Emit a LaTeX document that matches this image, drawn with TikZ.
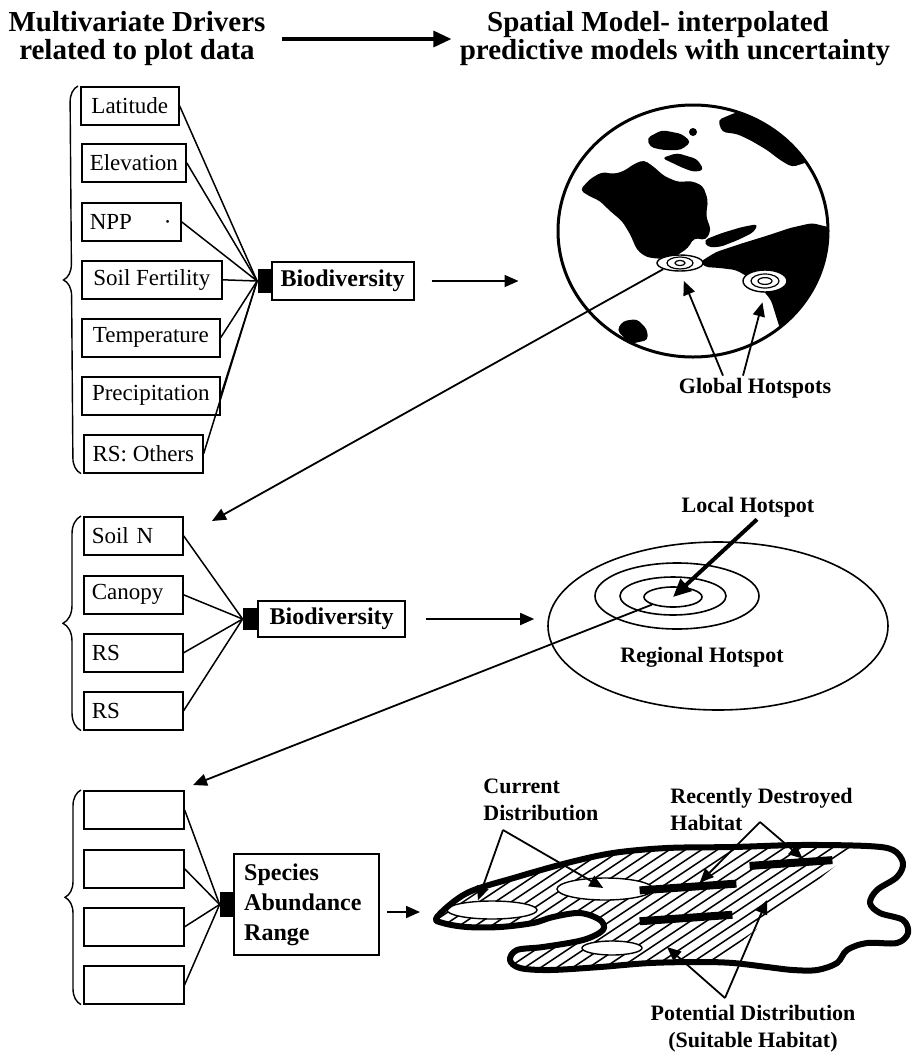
\documentclass[tikz,border=0pt]{standalone}
\usepackage{fontspec}
\setmainfont{Liberation Serif}
\usetikzlibrary{arrows.meta,shapes.geometric,decorations.pathreplacing}

\newcommand\habitatoutline{plot[smooth cycle,tension=.55] coordinates {
    (437,917) (467,893) (517,877) (567,863) (613,853) (667,848) (733,847)
    (800,845) (867,846) (893,850) (903,863) (897,877) (877,890) (870,903)
    (880,913) (903,920) (908,933) (897,943) (867,943) (847,950) (837,963)
    (817,970) (793,970) (767,967) (733,963) (700,962) (650,963) (600,967)
    (550,970) (520,968) (510,960) (517,950) (543,947) (583,940) (603,930)
    (600,920) (580,913) (553,917) (533,923) (500,927) (467,927) (443,923)}}

\begin{document}
\begin{tikzpicture}[x=0.5pt,y=-0.5pt,
        head/.style={font=\fontsize{14.5}{14}\selectfont\bfseries,align=center,inner sep=2pt},
        driver/.style={draw,line width=0.8pt,anchor=north west,minimum width=#1,minimum height=19pt,
            inner xsep=4pt,inner ysep=2pt,font=\fontsize{11.5}{13}\selectfont},
        leftdriver/.style={driver=49.5pt,text width=41.5pt,align=left},
        hub/.style={fill=black,inner sep=0pt,minimum width=6.5pt,minimum height=12pt},
        target/.style={draw,line width=0.8pt,anchor=west,inner sep=3pt,font=\fontsize{12}{15}\selectfont\bfseries},
        link/.style={line width=0.75pt},
        flow/.style={-{Triangle[length=7pt,width=6pt]},line width=0.9pt},
        brace/.style={decorate,decoration={brace,amplitude=#1},line width=0.7pt},
        note/.style={font=\fontsize{11}{13.5}\selectfont\bfseries,inner sep=1pt},
        spot/.style={draw,ellipse,fill=white,inner sep=0pt,line width=0.7pt},
        land/.style={fill=black,rounded corners=2pt},
        bar/.style={fill=black,inner sep=0pt,minimum height=4pt,rotate=4}]

    \useasboundingbox (0,0) rectangle (916,1061);

    \node[head] (drivers) at (137,39) {Multivariate Drivers\\related to plot data};
    \node[head] (spatial) at (675,39) {Spatial Model- interpolated\hspace*{17pt}\\predictive models with uncertainty};
    \draw[-{Triangle[length=9pt,width=8pt]},line width=1.6pt,shorten <=6pt,shorten >=2pt] (drivers.east) -- (spatial.west);

    % global level
    \node[driver=49pt] (lat) at (80,86) {Latitude};
    \node[driver=52pt] (elev) at (81,143) {Elevation};
    \node[driver=49.5pt,text width=41.5pt,align=left] (npp) at (81,202) {NPP\hspace{16pt}·};
    \node[driver=70pt] (soil) at (81,260) {Soil Fertility};
    \node[driver=69pt] (temp) at (81,318) {Temperature};
    \node[driver=69pt] (prec) at (81,376) {Precipitation};
    \node[driver=59.5pt] (rso) at (83,434) {RS: Others};
    \draw[brace=8pt] ([xshift=-1pt]rso.south west) -- ([xshift=-1pt]lat.north west);

    \node[hub] (hub1) at (264,281) {};
    \node[target,minimum width=71pt,minimum height=19pt] (bio1) at (hub1.east) {Biodiversity};
    \foreach \b in {lat,elev,npp,soil,temp,prec,rso}
        \draw[link] (\b.east) -- (hub1.west);

    \node[draw,ellipse,line width=1.5pt,minimum width=135pt,minimum height=126pt,inner sep=0pt] (globe) at (693,231) {};
    \draw[flow,shorten <=8.5pt,shorten >=19pt] (bio1.east) -- (bio1.east -| globe.west);

    \begin{scope}
        \clip (globe.center) ellipse [x radius=67.5pt,y radius=63pt];
        \fill[land] (580,190) -- (590,179) -- (602,172) -- (614,174) -- (624,171) -- (634,164) -- (644,160)
            -- (654,167) -- (664,176) -- (678,182) -- (692,181) -- (703,186) -- (708,200) -- (706,216)
            -- (711,230) -- (706,240) -- (694,238) -- (688,248) -- (676,256) -- (660,259) -- (646,257)
            -- (637,250) -- (630,234) -- (622,221) -- (610,211) -- (600,201) -- (589,196) -- cycle;
        \fill[land] (700,262) -- (716,252) -- (740,244) -- (766,236) -- (790,228) -- (812,223) -- (832,228)
            -- (832,272) -- (818,292) -- (802,312) -- (789,326) -- (781,332) -- (776,316) -- (771,300)
            -- (761,288) -- (750,278) -- (736,270) -- (720,268) -- (705,267) -- cycle;
        \fill[land] (704,240) -- (722,233) -- (742,227) -- (758,224) -- (754,232) -- (738,240) -- (720,247)
            -- (707,247) -- cycle;
        \fill[land] (647,138) -- (662,130) -- (682,134) -- (691,142) -- (681,150) -- (663,150) -- (650,147) -- cycle;
        \fill[land] (662,158) -- (677,153) -- (697,159) -- (704,170) -- (694,172) -- (683,168) -- cycle;
        \fill[land] (718,120) -- (737,112) -- (760,114) -- (780,127) -- (795,142) -- (808,162) -- (792,167)
            -- (780,160) -- (767,150) -- (750,140) -- (737,134) -- (722,132) -- cycle;
        \fill[land] (617,330) -- (623,321) -- (637,319) -- (647,329) -- (648,340) -- (630,344) -- cycle;
        \fill (693,132) circle [radius=2pt];
    \end{scope}

    \node[spot,minimum width=23pt,minimum height=8pt] (hotA) at (680,263) {};
    \draw[line width=0.6pt] (hotA.center) ellipse [x radius=6.5pt,y radius=3pt] (hotA.center) ellipse [x radius=2.5pt,y radius=1.3pt];
    \node[spot,minimum width=22pt,minimum height=11pt] (hotB) at (765,281) {};
    \draw[line width=0.6pt] (hotB.center) ellipse [x radius=7pt,y radius=3.5pt] (hotB.center) ellipse [x radius=3.5pt,y radius=1.7pt];

    \node[note] (glob) at (755,388) {Global Hotspots};
    \draw[flow,shorten >=5pt] ([xshift=-16pt]glob.north) -- (hotA.south);
    \draw[flow,shorten >=5pt] ([xshift=-6pt]glob.north) -- (hotB.south);

    \coordinate (drop1) at (212,521);
    \draw[flow] (hotA.south west) -- (drop1);

    % regional level
    \node[leftdriver] (soiln) at (83,516) {Soil N};
    \node[leftdriver] (canopy) at (83,575) {Canopy};
    \node[leftdriver] (rsa) at (83,633) {RS};
    \node[leftdriver] (rsb) at (83,691) {RS};
    \draw[brace=9pt] ([xshift=-1pt]rsb.south west) -- ([xshift=-1pt]soiln.north west);

    \node[hub,minimum width=7pt,minimum height=11pt] (hub2) at (250,619) {};
    \node[target,minimum width=73.5pt,minimum height=18pt] (bio2) at (hub2.east) {Biodiversity};
    \foreach \b in {soiln,canopy,rsa,rsb}
        \draw[link] (\b.east) -- (hub2.west);

    \node[draw,ellipse,line width=0.8pt,minimum width=170pt,minimum height=84pt,inner sep=0pt] (region) at (718,626) {};
    \draw[flow,shorten <=10pt,shorten >=6.5pt] (bio2.east) -- (bio2.east -| region.west);
    \draw[line width=0.8pt] (677,596) ellipse [x radius=41pt,y radius=16.5pt]
        (673,596) ellipse [x radius=26.5pt,y radius=9.5pt];
    \node[draw,ellipse,line width=0.8pt,minimum width=29pt,minimum height=10pt,inner sep=0pt] (local) at (673,597) {};

    \node[note] (regl) at (702,657) {Regional Hotspot};
    \node[note] (locl) at (748,507) {Local Hotspot};
    \draw[-{Triangle[length=9pt,width=8pt]},line width=2pt] ([xshift=4.5pt]locl.south) -- (local.center);

    \coordinate (drop2) at (193,785);
    \draw[flow] (local.south west) -- (drop2);

    % species level
    \node[driver=50pt] (blank1) at (83,790) {};
    \node[driver=50pt] (blank2) at (83,849) {};
    \node[driver=50pt] (blank3) at (83,907) {};
    \node[driver=50pt] (blank4) at (83,965) {};
    \draw[brace=8pt] ([xshift=-1pt]blank4.south west) -- ([xshift=-1pt]blank1.north west);

    \node[hub,minimum width=6.5pt,minimum height=12.5pt] (hub3) at (226.5,904.5) {};
    \node[target,minimum height=50.5pt,text width=62.5pt,inner xsep=5pt,align=left] (species) at (hub3.east) {Species\\Abundance\\Range};
    \foreach \b in {blank1,blank2,blank3,blank4}
        \draw[link] (\b.east) -- (hub3.west);

    \coordinate (hab) at (437,912);
    \draw[flow,shorten <=3.5pt,shorten >=8.5pt] (species.east |- hab) -- (hab);

    \begin{scope}
        \clip \habitatoutline;
        \clip (420,830) -- (880,830) -- (700,975) -- (420,975) -- cycle;
        \foreach \i in {0,...,22}
            \draw[link] (300+16*\i,1000) -- ++(300,-200);
    \end{scope}

    \node[spot,minimum width=45pt,minimum height=9pt] (cur1) at (492,910) {};
    \node[spot,minimum width=48pt,minimum height=11pt] (cur2) at (605,889) {};
    \node[spot,minimum width=30pt,minimum height=7pt] (cur3) at (612,948) {};
    \node[bar,minimum width=48.5pt] (bar1) at (688,887) {};
    \node[bar,minimum width=41.5pt] (bar2) at (791,863) {};
    \node[bar,minimum width=46.5pt] (bar3) at (686,918) {};
    \draw[line width=3pt,line join=round] \habitatoutline;

    \node[note,align=left,anchor=north west] (curl) at (481,777) {Current\\Distribution};
    \node[note,align=left,anchor=north west] (desl) at (668,786) {Recently Destroyed\\Habitat};
    \node[note,align=center] (potl) at (753,1029) {Potential Distribution\\(Suitable Habitat)};

    \coordinate (curtip) at (503,830);
    \draw[flow] (curtip) -- ([xshift=-7pt]cur1.north);
    \draw[flow,shorten >=1pt] (curtip) -- (cur2.center);
    \coordinate (destip) at (760,822);
    \draw[flow] (destip) -- ([xshift=6pt]bar1.north);
    \draw[flow] (destip) -- ([xshift=6pt]bar2.north);
    \coordinate (pottip) at (725,998);
    \coordinate (pot1) at (667,947);
    \coordinate (pot2) at (767,900);
    \draw[flow] (pottip) -- (pot1);
    \draw[flow] (pottip) -- (pot2);
\end{tikzpicture}
\end{document}
